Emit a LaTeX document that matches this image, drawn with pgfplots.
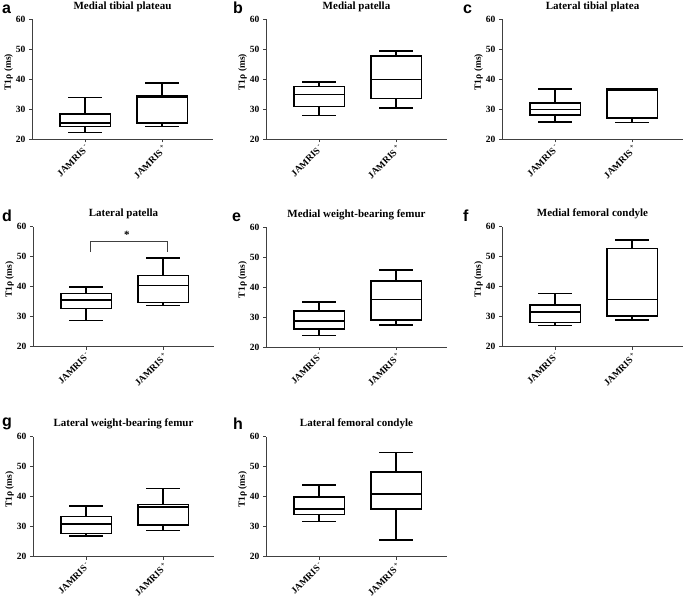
\documentclass[border=0pt]{standalone}
\usepackage{fontspec}
\setmainfont{Liberation Serif}
\newfontfamily\panelfont{Liberation Sans}
\usepackage{pgfplots}
\pgfplotsset{compat=1.18}
\usepgfplotslibrary{statistics}
\pgfplotsset{
  panel/.style={
    scale only axis, width=181pt, height=120pt,
    anchor=south west,
    xmin=-0.69, xmax=1.66, ymin=20, ymax=60,
    ytick={20,30,40,50,60},
    xtick={0,1},
    xticklabels={JAMRIS\,\textsuperscript{-}, JAMRIS\,\textsuperscript{+}},
    axis x line*=bottom, axis y line*=left,
    axis line style={-, black!75, line width=0.7pt},
    every tick/.style={black!75, line width=0.7pt},
    tick align=outside, major tick length=3pt,
    /pgf/number format/assume math mode=true,
    tick label style={font=\fontsize{9.5}{10}\selectfont\bfseries},
    x tick label style={rotate=45, anchor=north east, inner sep=1pt},
    ylabel={T1ρ (ms)},
    ylabel style={at={(axis description cs:-0.13,0.56)}, anchor=center, font=\fontsize{9.5}{10}\selectfont\bfseries},
    every axis title shift=0pt,
    title style={at={(axis description cs:0.5,1)}, anchor=base, yshift=10pt, font=\fontsize{11}{12}\selectfont\bfseries},
    boxplot/draw direction=y,
    clip=false,
  },
  bx/.style={black, line width=1.6pt, solid, fill=none, mark=none,
     boxplot/box extend=0.66, boxplot/whisker extend=0.44},
  md/.style={black, line width=1.6pt, mark=none},
}
\tikzset{lett/.style={anchor=base west, inner sep=0pt, font=\panelfont\bfseries\fontsize{16}{16}\selectfont}}
\begin{document}
\begin{tikzpicture}
\useasboundingbox (0,0) rectangle (685pt,-604pt);
% panel letters
\node[lett] at (2pt,-14pt) {a};
\node[lett] at (233pt,-14pt) {b};
\node[lett] at (463pt,-14pt) {c};
\node[lett] at (2pt,-222pt) {d};
\node[lett] at (232pt,-222pt) {e};
\node[lett] at (463pt,-222pt) {f};
\node[lett] at (2pt,-426pt) {g};
\node[lett] at (233pt,-429pt) {h};

% a
\begin{axis}[panel, at={(32pt,-139.3pt)}, title={Medial tibial plateau}]
\addplot[bx, boxplot prepared={draw position=0, lower whisker=22.3, lower quartile=24.2, median=25.4, upper quartile=28.4, upper whisker=34.0}] coordinates {};
\addplot[bx, boxplot prepared={draw position=1, lower whisker=24.2, lower quartile=25.4, median=33.9, upper quartile=34.4, upper whisker=38.8}] coordinates {};
\addplot[md] coordinates {(-0.33,25.4) (0.33,25.4)};
\addplot[md] coordinates {(0.67,33.9) (1.33,33.9)};
\end{axis}
% b
\begin{axis}[panel, at={(266pt,-139.3pt)}, title={Medial patella}]
\addplot[bx, boxplot prepared={draw position=0, lower whisker=27.9, lower quartile=30.9, median=35.0, upper quartile=37.6, upper whisker=39.1}] coordinates {};
\addplot[bx, boxplot prepared={draw position=1, lower whisker=30.4, lower quartile=33.6, median=40.0, upper quartile=47.8, upper whisker=49.4}] coordinates {};
\addplot[md] coordinates {(-0.33,35.0) (0.33,35.0)};
\addplot[md] coordinates {(0.67,40.0) (1.33,40.0)};
\end{axis}
% c
\begin{axis}[panel, at={(502pt,-139.3pt)}, title={Lateral tibial platea}]
\addplot[bx, boxplot prepared={draw position=0, lower whisker=25.8, lower quartile=28.1, median=30.0, upper quartile=32.1, upper whisker=36.8}] coordinates {};
\addplot[bx, boxplot prepared={draw position=1, lower whisker=25.6, lower quartile=27.2, median=36.3, upper quartile=36.7, upper whisker=36.9}] coordinates {};
\addplot[md] coordinates {(-0.33,30.0) (0.33,30.0)};
\addplot[md] coordinates {(0.67,36.3) (1.33,36.3)};
\end{axis}
% d
\begin{axis}[panel, at={(33pt,-346.7pt)}, title={Lateral patella}]
\addplot[bx, boxplot prepared={draw position=0, lower whisker=28.7, lower quartile=32.8, median=35.5, upper quartile=37.8, upper whisker=39.9}] coordinates {};
\addplot[bx, boxplot prepared={draw position=1, lower whisker=33.8, lower quartile=34.7, median=40.4, upper quartile=43.8, upper whisker=49.5}] coordinates {};
\addplot[md] coordinates {(-0.33,35.5) (0.33,35.5)};
\addplot[md] coordinates {(0.67,40.4) (1.33,40.4)};
\addplot[black!75, line width=0.7pt] coordinates {(0.05,51.5) (0.05,55.2) (1.05,55.2) (1.05,51.5)};
\node[font=\fontsize{11}{12}\selectfont\bfseries] at (axis cs:0.53,57.2) {*};
\end{axis}
% e
\begin{axis}[panel, at={(266pt,-347pt)}, title={Medial weight-bearing femur}]
\addplot[bx, boxplot prepared={draw position=0, lower whisker=23.8, lower quartile=26.1, median=28.7, upper quartile=32.1, upper whisker=35.0}] coordinates {};
\addplot[bx, boxplot prepared={draw position=1, lower whisker=27.3, lower quartile=29.1, median=35.9, upper quartile=42.0, upper whisker=45.7}] coordinates {};
\addplot[md] coordinates {(-0.33,28.7) (0.33,28.7)};
\addplot[md] coordinates {(0.67,35.9) (1.33,35.9)};
\end{axis}
% f
\begin{axis}[panel, at={(502pt,-346.7pt)}, title={Medial femoral condyle}]
\addplot[bx, boxplot prepared={draw position=0, lower whisker=27.1, lower quartile=28.1, median=31.5, upper quartile=33.9, upper whisker=37.7}] coordinates {};
\addplot[bx, boxplot prepared={draw position=1, lower whisker=29.0, lower quartile=30.2, median=35.7, upper quartile=52.7, upper whisker=55.6}] coordinates {};
\addplot[md] coordinates {(-0.33,31.5) (0.33,31.5)};
\addplot[md] coordinates {(0.67,35.7) (1.33,35.7)};
\end{axis}
% g
\begin{axis}[panel, at={(33pt,-556.7pt)}, title={Lateral weight-bearing femur}]
\addplot[bx, boxplot prepared={draw position=0, lower whisker=27.0, lower quartile=27.8, median=31.0, upper quartile=33.4, upper whisker=37.0}] coordinates {};
\addplot[bx, boxplot prepared={draw position=1, lower whisker=28.8, lower quartile=30.6, median=36.6, upper quartile=37.4, upper whisker=42.7}] coordinates {};
\addplot[md] coordinates {(-0.33,31.0) (0.33,31.0)};
\addplot[md] coordinates {(0.67,36.6) (1.33,36.6)};
\end{axis}
% h
\begin{axis}[panel, at={(266pt,-556.7pt)}, title={Lateral femoral condyle}]
\addplot[bx, boxplot prepared={draw position=0, lower whisker=31.8, lower quartile=34.1, median=36.0, upper quartile=39.9, upper whisker=44.0}] coordinates {};
\addplot[bx, boxplot prepared={draw position=1, lower whisker=25.6, lower quartile=36.0, median=41.0, upper quartile=48.3, upper whisker=54.8}] coordinates {};
\addplot[md] coordinates {(-0.33,36.0) (0.33,36.0)};
\addplot[md] coordinates {(0.67,41.0) (1.33,41.0)};
\end{axis}
\end{tikzpicture}
\end{document}
